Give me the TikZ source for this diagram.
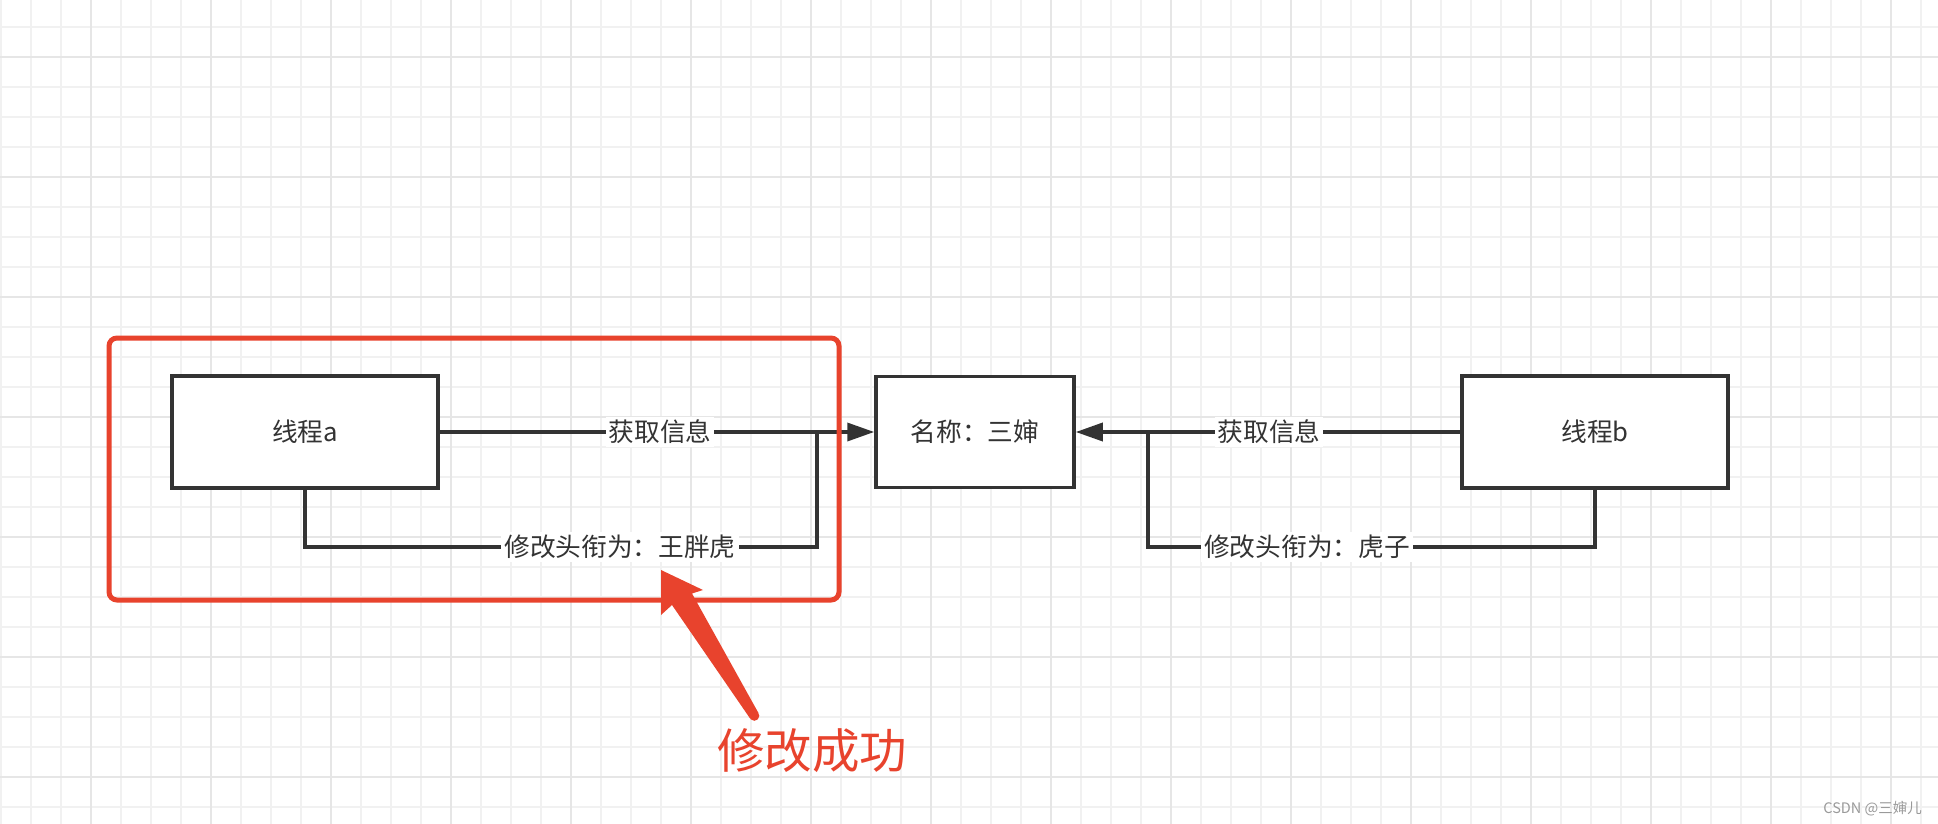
\documentclass[tikz,border=0pt]{standalone}
\usepackage{fontspec}
\newfontfamily\cjk{Noto Sans CJK SC}
\usetikzlibrary{arrows.meta}
\definecolor{ink}{HTML}{333333}
\definecolor{hlred}{RGB}{232,67,45}
\definecolor{gridminor}{HTML}{F1F1F1}
\definecolor{gridmajor}{HTML}{E6E6E6}
\definecolor{wmgray}{HTML}{9A9A9A}
\begin{document}
\begin{tikzpicture}[x=1pt,y=-1pt,
  box/.style={draw=ink, line width=3.5pt, fill=white, minimum width=266pt,
    minimum height=112pt, text=ink, font=\cjk\fontsize{25.7}{30}\selectfont, inner sep=0pt},
  conn/.style={draw=ink, line width=3.5pt},
  tipped/.style={-{Triangle[length=27pt,width=18pt]}},
  lbl/.style={fill=white, text=ink, font=\cjk\fontsize{25.7}{30}\selectfont, inner sep=3pt},
]
\useasboundingbox (0,0) rectangle (1938,824);
\fill[white] (0,0) rectangle (1938,824);
% grid
\foreach \k in {0,...,64} \draw[gridminor, line width=2pt] ({1+30*\k},0) -- ({1+30*\k},824);
\foreach \k in {0,...,27} \draw[gridminor, line width=2pt] (0,{27+30*\k}) -- (1938,{27+30*\k});
\foreach \k in {0,...,15} \draw[gridmajor, line width=2.5pt] ({91+120*\k},0) -- ({91+120*\k},824);
\foreach \k in {0,...,6} \draw[gridmajor, line width=2.5pt] (0,{57+120*\k}) -- (1938,{57+120*\k});

% boxes
\node[box] (a) at (305,432) {线程a};
\node[box, minimum width=198pt, minimum height=111pt] (n) at (975,432) {名称：三婶};
\node[box] (b) at (1595,432) {线程b};

% junction coordinates
\coordinate (ja) at (817,432);
\coordinate (ca) at (817,547);
\coordinate (jb) at (1148,432);
\coordinate (cb) at (1148,547);

% connectors
\draw[conn, tipped] (a.east) -- (n.west);
\draw[conn] (a.south) |- (ca) -- (ja);
\draw[conn, tipped] (b.west) -- (n.east);
\draw[conn] (b.south) |- (cb) -- (jb);

% labels
\node[lbl] (l1) at (660,432) {获取信息};
\node[lbl] (l2) at (620,547) {修改头衔为：王胖虎};
\node[lbl] (l3) at (1269,432) {获取信息};
\node[lbl] (l4) at (1307,547) {修改头衔为：虎子};

% red highlight
\node[draw=hlred, line width=5pt, rounded corners=8pt, minimum width=730pt,
  minimum height=262pt, inner sep=0pt] (hl) at (474,469) {};

% red annotation arrow
\fill[hlred] (661,570) -- (703,590) -- (692,593.5) -- (758.5,713.1) -- (750.1,718.5)
  -- (672,605) -- (661,615) -- cycle;
\fill[hlred] (754.3,715.8) circle (5pt);

\node[text=hlred, font=\cjk\fontsize{47.5}{56}\selectfont, inner sep=0pt] (ok) at (812,751) {修改成功};
\node[text=wmgray, font=\cjk\fontsize{14.5}{17}\selectfont, inner sep=0pt, anchor=east] (wmk) at (1922,809) {CSDN @三婶儿};
\end{tikzpicture}
\end{document}
